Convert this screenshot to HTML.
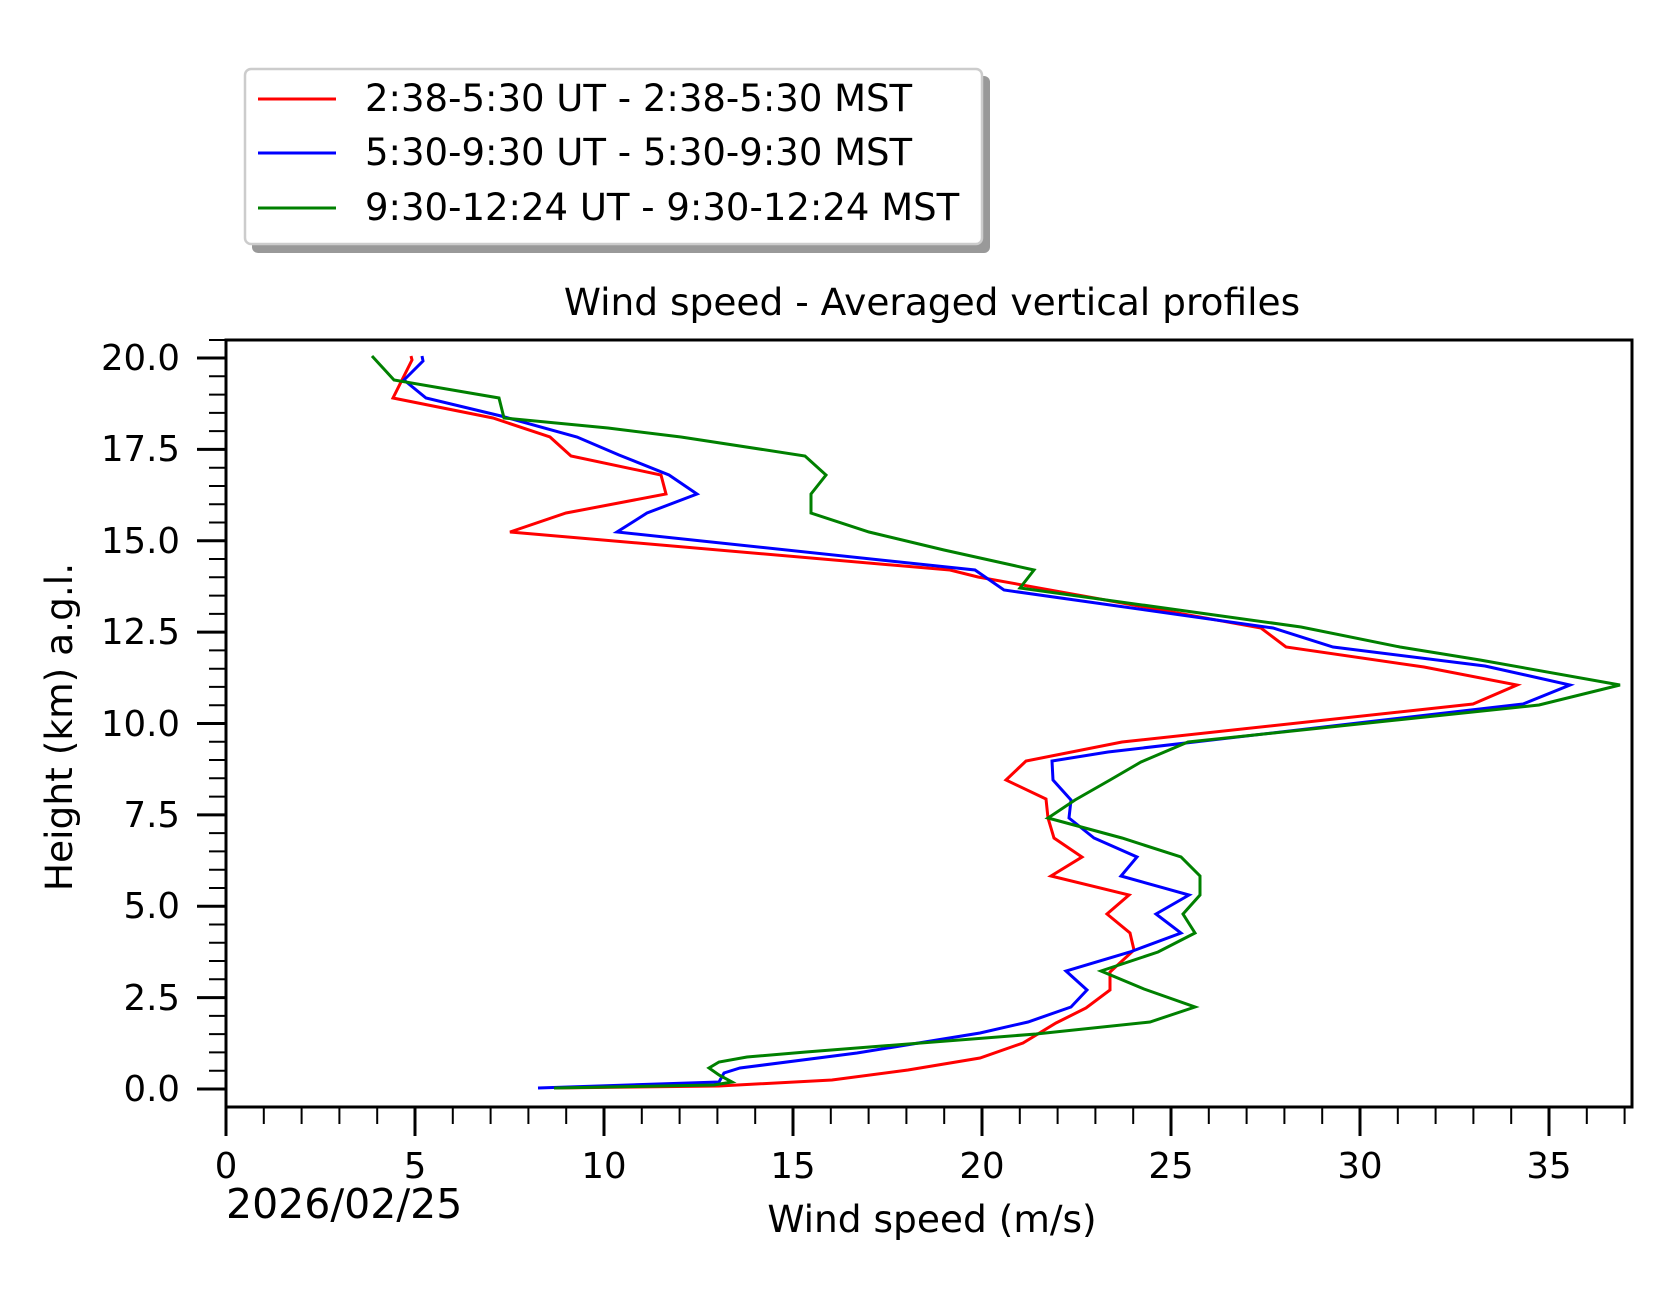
<!DOCTYPE html>
<html><head><meta charset="utf-8"><style>
html,body{margin:0;padding:0;background:#fff;}
svg{display:block;}
text{font-family:"DejaVu Sans","Liberation Sans",sans-serif;fill:#000;}
</style></head><body>
<svg width="1676" height="1303" viewBox="0 0 1676 1303" xmlns="http://www.w3.org/2000/svg">
<rect width="1676" height="1303" fill="#fff"/>
<!-- legend -->
<rect x="252" y="76" width="738" height="177" rx="6" fill="#999"/>
<rect x="245" y="69" width="737" height="175" rx="6" fill="#fff" stroke="#ccc" stroke-width="2.5"/>
<line x1="258" y1="99" x2="336" y2="99" stroke="#f00" stroke-width="3"/>
<line x1="258" y1="153" x2="336" y2="153" stroke="#00f" stroke-width="3"/>
<line x1="258" y1="208" x2="336" y2="208" stroke="#008000" stroke-width="3"/>
<text x="365" y="111" font-size="37">2:38-5:30 UT - 2:38-5:30 MST</text>
<text x="365" y="165" font-size="37">5:30-9:30 UT - 5:30-9:30 MST</text>
<text x="365" y="220" font-size="37">9:30-12:24 UT - 9:30-12:24 MST</text>
<!-- title -->
<text x="932" y="315" font-size="37.5" text-anchor="middle">Wind speed - Averaged vertical profiles</text>
<!-- series -->
<g fill="none" stroke-width="3" stroke-linejoin="miter">
<polyline stroke="#f00" points="411,356 412,360 393,398 493,418 550,437 571,456 661,475 666,494 566,513 510,532 950,570 978,577 1261,628 1286,647 1424,667 1517,685 1473,704 1122,742 1026,761 1006,780 1046,799 1048,818 1054,838 1082,857 1051,876 1129,895 1107,914 1130,933 1134,950 1110,972 1110,990 1086,1008 1056,1023 1023,1043 980,1058 908,1070 832,1080 719,1086 554,1088"/>
<polyline stroke="#00f" points="422,356 423,361 404,380 426,398 501,416 577,437 619,455 669,475 697,494 647,513 617,532 975,570 1004,590 1273,628 1333,647 1485,666 1570,685 1523,704 1358,723 1108,752 1052,761 1053,780 1071,800 1069,818 1094,838 1137,857 1121,876 1189,895 1156,914 1181,933 1130,952 1066,971 1087,990 1071,1007 1028,1022 980,1033 857,1053 740,1068 724,1073 719,1082 538,1088"/>
<polyline stroke="#008000" points="372,356 394,380 499,398 504,418 608,428 681,437 805,456 826,475 811,494 811,513 869,532 944,550 1034,570 1020,588 1301,627 1400,647 1480,660 1620,685 1539,705 1188,742 1141,762 1110,780 1075,800 1048,818 1122,838 1181,857 1200,876 1200,895 1183,914 1195,933 1158,952 1101,971 1144,989 1195,1007 1150,1022 1036,1034 806,1052 747,1057 719,1062 709,1068 719,1075 732,1082 714,1085 554,1088"/>
</g>
<!-- axes frame -->
<rect x="226" y="340" width="1406" height="767" fill="none" stroke="#000" stroke-width="3"/>
<!-- y ticks -->
<g stroke="#000" stroke-width="2">
<line x1="209" y1="340" x2="226" y2="340"/>
<line x1="209" y1="376.3" x2="226" y2="376.3"/><line x1="209" y1="394.6" x2="226" y2="394.6"/><line x1="209" y1="412.9" x2="226" y2="412.9"/><line x1="209" y1="431.1" x2="226" y2="431.1"/>
<line x1="209" y1="467.7" x2="226" y2="467.7"/><line x1="209" y1="486" x2="226" y2="486"/><line x1="209" y1="504.2" x2="226" y2="504.2"/><line x1="209" y1="522.5" x2="226" y2="522.5"/>
<line x1="209" y1="559" x2="226" y2="559"/><line x1="209" y1="577.3" x2="226" y2="577.3"/><line x1="209" y1="595.6" x2="226" y2="595.6"/><line x1="209" y1="613.9" x2="226" y2="613.9"/>
<line x1="209" y1="650.4" x2="226" y2="650.4"/><line x1="209" y1="668.7" x2="226" y2="668.7"/><line x1="209" y1="686.9" x2="226" y2="686.9"/><line x1="209" y1="705.2" x2="226" y2="705.2"/>
<line x1="209" y1="741.8" x2="226" y2="741.8"/><line x1="209" y1="760" x2="226" y2="760"/><line x1="209" y1="778.3" x2="226" y2="778.3"/><line x1="209" y1="796.6" x2="226" y2="796.6"/>
<line x1="209" y1="833.1" x2="226" y2="833.1"/><line x1="209" y1="851.4" x2="226" y2="851.4"/><line x1="209" y1="869.7" x2="226" y2="869.7"/><line x1="209" y1="888" x2="226" y2="888"/>
<line x1="209" y1="924.5" x2="226" y2="924.5"/><line x1="209" y1="942.8" x2="226" y2="942.8"/><line x1="209" y1="961" x2="226" y2="961"/><line x1="209" y1="979.3" x2="226" y2="979.3"/>
<line x1="209" y1="1015.9" x2="226" y2="1015.9"/><line x1="209" y1="1034.1" x2="226" y2="1034.1"/><line x1="209" y1="1052.4" x2="226" y2="1052.4"/><line x1="209" y1="1070.7" x2="226" y2="1070.7"/>
</g>
<g stroke="#000" stroke-width="3">
<line x1="197" y1="358" x2="226" y2="358"/><line x1="197" y1="449.4" x2="226" y2="449.4"/><line x1="197" y1="540.8" x2="226" y2="540.8"/><line x1="197" y1="632.1" x2="226" y2="632.1"/><line x1="197" y1="723.5" x2="226" y2="723.5"/><line x1="197" y1="814.9" x2="226" y2="814.9"/><line x1="197" y1="906.2" x2="226" y2="906.2"/><line x1="197" y1="997.6" x2="226" y2="997.6"/><line x1="197" y1="1089" x2="226" y2="1089"/>
</g>
<g font-size="35.5" text-anchor="end">
<text x="180" y="370">20.0</text><text x="180" y="461">17.5</text><text x="180" y="553">15.0</text><text x="180" y="644">12.5</text><text x="180" y="736">10.0</text><text x="180" y="827">7.5</text><text x="180" y="918">5.0</text><text x="180" y="1010">2.5</text><text x="180" y="1101">0.0</text>
</g>
<!-- x ticks -->
<g stroke="#000" stroke-width="2">
<line x1="263.8" y1="1107" x2="263.8" y2="1124"/><line x1="301.6" y1="1107" x2="301.6" y2="1124"/><line x1="339.4" y1="1107" x2="339.4" y2="1124"/><line x1="377.2" y1="1107" x2="377.2" y2="1124"/>
<line x1="452.8" y1="1107" x2="452.8" y2="1124"/><line x1="490.6" y1="1107" x2="490.6" y2="1124"/><line x1="528.4" y1="1107" x2="528.4" y2="1124"/><line x1="566.2" y1="1107" x2="566.2" y2="1124"/>
<line x1="641.8" y1="1107" x2="641.8" y2="1124"/><line x1="679.6" y1="1107" x2="679.6" y2="1124"/><line x1="717.4" y1="1107" x2="717.4" y2="1124"/><line x1="755.2" y1="1107" x2="755.2" y2="1124"/>
<line x1="830.8" y1="1107" x2="830.8" y2="1124"/><line x1="868.6" y1="1107" x2="868.6" y2="1124"/><line x1="906.4" y1="1107" x2="906.4" y2="1124"/><line x1="944.2" y1="1107" x2="944.2" y2="1124"/>
<line x1="1019.8" y1="1107" x2="1019.8" y2="1124"/><line x1="1057.6" y1="1107" x2="1057.6" y2="1124"/><line x1="1095.4" y1="1107" x2="1095.4" y2="1124"/><line x1="1133.2" y1="1107" x2="1133.2" y2="1124"/>
<line x1="1208.8" y1="1107" x2="1208.8" y2="1124"/><line x1="1246.6" y1="1107" x2="1246.6" y2="1124"/><line x1="1284.4" y1="1107" x2="1284.4" y2="1124"/><line x1="1322.2" y1="1107" x2="1322.2" y2="1124"/>
<line x1="1397.8" y1="1107" x2="1397.8" y2="1124"/><line x1="1435.6" y1="1107" x2="1435.6" y2="1124"/><line x1="1473.4" y1="1107" x2="1473.4" y2="1124"/><line x1="1511.2" y1="1107" x2="1511.2" y2="1124"/>
<line x1="1586.8" y1="1107" x2="1586.8" y2="1124"/><line x1="1624.6" y1="1107" x2="1624.6" y2="1124"/>
</g>
<g stroke="#000" stroke-width="3">
<line x1="226" y1="1107" x2="226" y2="1136"/><line x1="415" y1="1107" x2="415" y2="1136"/><line x1="604" y1="1107" x2="604" y2="1136"/><line x1="793" y1="1107" x2="793" y2="1136"/><line x1="982" y1="1107" x2="982" y2="1136"/><line x1="1171" y1="1107" x2="1171" y2="1136"/><line x1="1360" y1="1107" x2="1360" y2="1136"/><line x1="1549" y1="1107" x2="1549" y2="1136"/>
</g>
<g font-size="35.5" text-anchor="middle">
<text x="226" y="1178">0</text><text x="415" y="1178">5</text><text x="604" y="1178">10</text><text x="793" y="1178">15</text><text x="982" y="1178">20</text><text x="1171" y="1178">25</text><text x="1360" y="1178">30</text><text x="1549" y="1178">35</text>
</g>
<text x="226" y="1218" font-size="41">2026/02/25</text>
<text x="932" y="1232" font-size="37.5" text-anchor="middle">Wind speed (m/s)</text>
<text x="0" y="0" font-size="37.5" text-anchor="middle" transform="translate(72,727) rotate(-90)">Height (km) a.g.l.</text>
</svg>
</body></html>
